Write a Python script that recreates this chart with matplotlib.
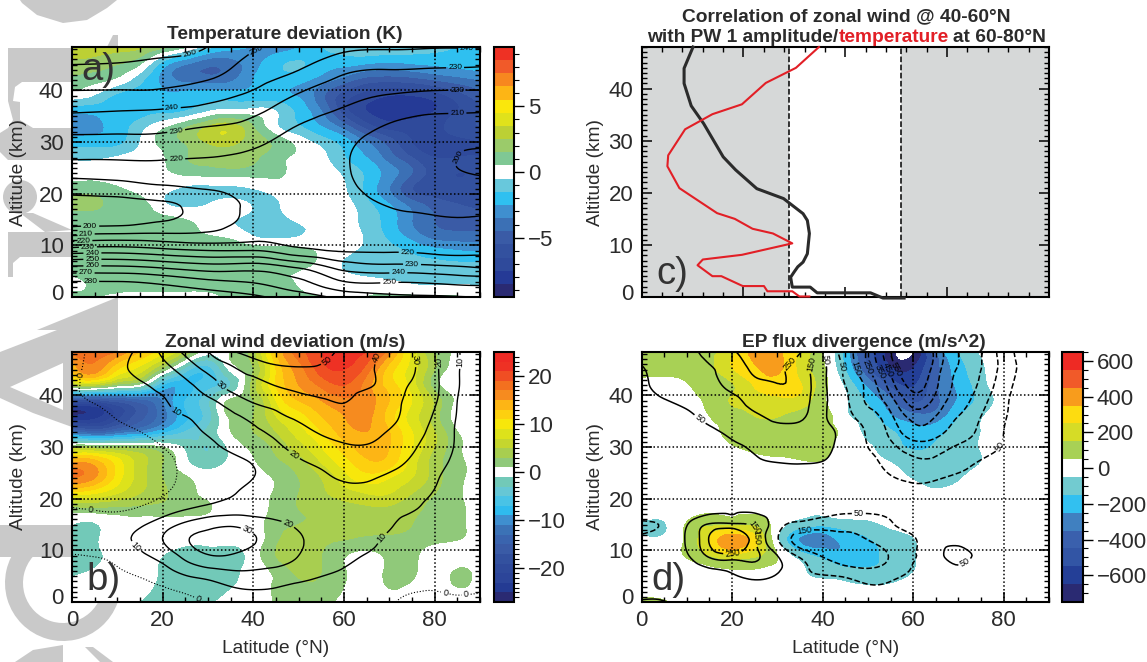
import numpy as np
import matplotlib
matplotlib.use('Agg')
import matplotlib.pyplot as plt
import matplotlib.tri as mtri
from matplotlib.patches import Polygon, Circle, Wedge
from matplotlib.transforms import ScaledTranslation

plt.rcParams['font.family'] = ['Liberation Sans', 'DejaVu Sans']

W, H = 1147, 662

lat = np.arange(0, 91, 5)
lat_t = np.arange(0, 91, 10)
alt = np.array([0, 3, 6, 9, 12, 15, 18, 21, 24, 27, 30, 33, 36, 39, 42, 45, 48.5])

# shading of panel a, rows from the top of the atmosphere down
temp_dev = [
    [3.0, 3.0, 3.0, 2.8, 2.0, 0.8, -1.0, -2.0, -2.6, -3.2, -2.6, -1.6, -0.9, -0.5, -0.6, -0.9, -1.2, -1.6, -2.0],
    [2.2, 2.0, 1.5, 0.5, -2.0, -3.5, -4.3, -4.0, -2.9, -1.8, -1.4, -2.0, -2.3, -2.6, -2.8, -2.6, -2.4, -2.2, -2.0],
    [1.2, 0.8, 0.2, -1.2, -2.8, -3.8, -4.0, -3.7, -2.5, -2.0, -2.2, -3.0, -4.0, -5.0, -5.2, -5.0, -4.5, -4.0, -3.5],
    [0.0, -0.6, -1.7, -2.0, -2.4, -2.2, -2.0, -2.0, -2.1, -2.2, -2.6, -4.2, -6.0, -7.0, -7.5, -7.5, -7.0, -6.0, -5.0],
    [-2.2, -2.2, -2.0, -2.0, -1.8, -1.5, -0.6, -0.2, -0.1, -0.5, -1.8, -3.5, -6.0, -7.5, -8.0, -8.0, -7.5, -6.5, -5.5],
    [-3.0, -2.8, -2.0, -1.0, 0.2, 1.3, 2.5, 3.0, 1.5, -0.3, -1.4, -2.5, -4.0, -6.0, -7.0, -7.0, -6.8, -6.0, -5.5],
    [-2.0, -2.0, -1.8, -0.5, 0.8, 1.6, 2.6, 2.8, 2.0, 1.2, 0.1, -0.9, -2.0, -3.5, -5.0, -6.5, -7.0, -6.8, -6.5],
    [-0.7, -0.7, -0.4, 0.0, 0.4, 1.4, 1.8, 2.0, 1.7, 0.9, 0.3, -0.2, -1.4, -2.5, -4.0, -5.5, -6.5, -6.5, -6.5],
    [0.0, 0.1, 0.1, 0.2, 0.3, 0.7, 0.9, 1.0, 0.9, 0.7, 0.2, 0.0, -0.7, -1.7, -3.0, -4.5, -6.0, -6.5, -6.5],
    [1.0, 1.0, 0.6, 0.2, -0.2, -0.7, -0.8, -0.7, -0.5, -0.1, 0.0, 0.0, -0.4, -1.8, -3.5, -5.5, -6.0, -6.2, -6.2],
    [1.8, 1.7, 1.2, 0.9, -0.3, -0.8, -0.5, -0.2, -0.6, -0.6, -0.1, 0.0, -0.2, -1.2, -2.5, -4.0, -5.0, -5.5, -5.8],
    [1.0, 1.0, 1.0, 1.0, 0.8, 0.5, 0.1, -0.4, -0.8, -0.9, -0.3, 0.0, -0.1, -0.9, -2.0, -3.5, -4.5, -5.0, -5.0],
    [1.0, 1.0, 1.0, 1.0, 1.0, 0.8, 0.5, 0.2, -0.6, -0.9, -0.6, -0.1, 0.0, -0.7, -1.8, -3.0, -4.0, -4.2, -4.2],
    [1.0, 1.0, 1.0, 1.0, 1.0, 1.0, 1.0, 1.0, 1.0, 0.9, 0.8, 0.3, -0.2, -0.8, -1.2, -1.7, -2.2, -2.5, -2.6],
    [1.0, 1.0, 1.0, 1.0, 1.0, 1.0, 1.0, 1.0, 1.0, 0.8, 0.7, 0.2, -0.6, -1.0, -1.0, -1.2, -1.3, -1.3, -1.3],
    [0.3, 0.7, 1.0, 1.0, 1.0, 1.0, 0.9, 0.8, 0.7, 0.7, 0.4, 0.1, 0.0, -0.2, -0.4, -0.7, -0.8, -0.7, -0.7],
    [0.8, 0.6, 0.2, 0.0, 0.0, 0.0, 0.2, 0.7, 1.0, 1.0, 0.7, 0.5, 0.2, 0.5, 0.7, 0.7, 0.7, 0.6, 0.2],
]

# temperature isolines of panel a, one column per 10 deg, bottom to top
temp_clim = [
    [293, 280, 260, 235, 210, 195, 195, 204, 213, 221, 227, 233.5, 241, 248, 254, 260, 264],
    [293, 280, 260, 236, 212, 195, 196, 205, 214, 221, 227, 233, 240, 247.5, 254, 259.5, 264],
    [290, 277, 257, 233, 212, 199, 198.5, 208, 215, 221, 226.5, 232.5, 239, 247, 253, 258, 263],
    [287, 272, 253, 230, 212, 206, 205, 210.5, 216, 220, 225, 230, 237, 243, 250, 255, 260],
    [282, 269, 254, 230, 216, 212, 212, 213, 215, 218, 222, 227, 232, 238, 243, 247, 251],
    [275, 262, 247, 223, 216, 215, 214, 214, 214, 215, 216, 219.5, 224, 229, 236, 242, 249],
    [267, 250, 235, 219, 215, 213, 212, 211.5, 211, 211, 212, 215, 219, 223, 228, 234, 243],
    [262, 249, 232, 219, 215, 212, 209.5, 206.5, 204, 203, 205, 209, 214, 219.5, 226, 232, 242],
    [261, 248, 231, 218, 215, 211, 208, 204, 201.5, 201, 202, 206, 211, 217.5, 225, 231.5, 241],
    [260, 246, 228, 218, 214, 211, 207, 203, 199.5, 198, 202, 206.5, 210.5, 217.5, 224.5, 231, 241],
]

wind_dev = [
    [18, 18, 17, 13, 10, 5, 0, 1, 4, 13, 18, 21, 22, 21, 16, 8, 3, 0.5, 0],
    [13, 16, 11, 8, 2, -4, -6, -0.5, 3, 11, 16, 20, 21, 18, 12, 8, 3, 0, 0],
    [4, 5, 2, 0, -7, -8, -6, -3, 4, 11, 15, 17.5, 19, 16, 12, 8, 2, 0, 0],
    [-18, -18, -16, -14, -11, -7, -3.5, 1.5, 3, 9, 13, 15, 16.5, 16, 13, 9, 4.5, 0.5, 0],
    [-25, -24, -20, -16, -12, -7.5, -4, 1.5, 3, 7, 10, 13, 15, 15.5, 12, 8, 4, 0, 0],
    [-13, -15, -13, -11, -8, -5, -2.5, 1, 3, 5, 8, 11, 14, 15, 13, 9, 5, 1, 0],
    [3, 3, 2.5, 2, 1, -1.5, -3, -0.5, 1.5, 3.5, 6, 9, 12, 14, 13, 9, 5, 1.5, 0],
    [15, 14, 10, 6, 3, -0.5, -2, -0.5, 0.8, 2.5, 4, 7, 10, 12.5, 12, 8, 4, 1.5, 0.3],
    [17, 15, 10, 6, 3, 1.3, 0, 0, 0, 1.3, 3, 5, 8, 10, 9, 7, 4, 1.5, 0.2],
    [10, 9, 7, 5, 3.3, 1.8, 0.5, 0, 0, 1.3, 3, 4.5, 6, 7, 7, 5, 3, 1.3, 0],
    [2, 2.3, 2.3, 2.3, 2.2, 1.8, 1.2, 0, 0, 1.6, 3, 3.5, 4, 4.5, 4.5, 3.5, 2.5, 1.5, 0],
    [-1, -1.2, 0, 0, 0, 0, 0, 0, 0.2, 2, 3, 3.5, 3.5, 3.5, 3.5, 3, 2.5, 1.5, 0],
    [-1.5, -1.3, 0, 0, 0, -0.5, -0.5, -0.5, 0, 2.5, 4.5, 3.5, 3, 2.5, 2.5, 2.2, 1.5, 1, 0],
    [-1.5, -1.5, 0, 0, -1, -2, -2, -2, 0, 3, 4.5, 3, 1.2, 0.3, 1.5, 1.5, 0, 0, 0],
    [-1.5, -0.8, 0, 0, -1.3, -2, -2, -1.8, 0, 1.5, 3.5, 3, 1.2, 0, 1.5, 1.5, 0, 1.2, 0],
    [0, 0, 0, -0.3, -1.5, -2, -2, -1.2, 0, 1.3, 2.5, 2.5, 1, 0, 1.1, 0.5, 0, 1.05, 0],
    [0, 0, 0, -1.1, -1.5, -1.8, -1.5, 0, 0, 1.2, 1.8, 1.8, 0.3, 0, 0, 0, 0, 0, 0],
]

wind_clim = [
    [-5, 3, 7, 12, 22, 32, 40, 49, 53, 55, 55, 53, 48, 43, 38, 31, 22, 11, 3],
    [-3, 3, 7, 13, 17, 24, 32, 38, 44, 48, 49, 49, 46, 42, 36, 31, 22, 11, 3],
    [-1, 2, 5, 8.5, 13, 18, 25, 33, 36, 40.5, 43, 45, 43, 41, 36, 29, 22, 11, 3],
    [-3, 0.8, 3, 6, 9, 15, 18.5, 25, 31, 33.5, 37, 39, 40.5, 37, 34, 27, 21, 10, 3],
    [-8, -4, 1, 4, 7, 10, 13.5, 18, 23, 28, 32, 35, 37, 36, 33, 26, 19, 9.5, 3],
    [-12, -8, -4, 0, 3.5, 7, 11, 15, 18.5, 22, 27, 31, 33, 32.5, 29.5, 24, 17, 9, 3],
    [-14, -11, -8, -4, 0, 3, 7, 12, 15, 18.5, 23, 26.5, 29, 29.5, 27, 21.5, 15, 9, 3],
    [-13, -11, -8, -5, -1.5, 1, 4, 7, 10.5, 14, 18.5, 22, 25, 25.5, 23, 18.5, 13, 8, 3],
    [-12, -10, -7, -4, -1.5, 1, 4, 7.5, 10, 12, 14.5, 18, 21, 21, 18.5, 15.5, 11, 6.5, 3],
    [-9, -7.5, -5, -3, -0.5, 2.5, 6, 9.5, 11, 12.5, 14, 15.5, 16.5, 17, 15, 12.5, 9.5, 5.5, 2.5],
    [1, -0.5, -1, 1, 5, 9.5, 13, 15, 15, 14, 13.5, 13, 13, 13, 12, 10.5, 7.5, 4, 2],
    [3, 4, 5, 8.5, 15, 22, 26.5, 28.5, 26, 23, 18, 15, 13.5, 12, 10.5, 8, 6, 3.5, 2],
    [3, 5, 7.5, 12, 20, 29, 33, 34, 30.5, 27, 21, 18, 15.5, 12, 9, 7, 5, 3, 2],
    [-0.5, 0.5, 3, 8, 14, 23, 29.5, 29.5, 27, 25, 20, 16.5, 13, 9.5, 7, 5, 3.5, 2.5, 2],
    [-6, -4, -1, 2, 6.5, 13, 17, 19.5, 19.5, 18, 16, 12.5, 9, 6, 4, 2.5, 1.5, 1, 1],
    [-8, -7, -5, -2.5, 0, 3, 6, 10, 11.5, 10.5, 8, 5.5, 4, 3, 1.5, 0.5, 0.2, 0.4, 0.2],
    [-11, -10, -8, -6, -4, -2, 0.5, 3, 5, 5, 4, 3, 2, 1, 0.3, -0.5, -0.3, -0.5, -0.3],
]

epfd_fill = [
    [100, 100, 100, 130, 210, 400, 380, 230, 60, -190, -500, -700, -770, -350, -140, -40, 0, 0, 0],
    [110, 90, 90, 120, 240, 330, 370, 220, 70, -150, -430, -630, -640, -400, -200, -70, 0, 0, 0],
    [0, 0, 40, 100, 140, 260, 300, 260, 90, -70, -280, -480, -560, -380, -230, -90, 0, 0, 0],
    [0, 0, 10, 80, 160, 200, 230, 210, 70, -40, -170, -330, -460, -380, -240, -110, -20, 0, 0],
    [0, 0, 0, 50, 100, 150, 155, 120, 100, -30, -110, -240, -320, -310, -160, -60, 0, 0, 0],
    [0, 0, 0, 20, 80, 100, 110, 110, 90, 20, -80, -140, -210, -190, -110, -50, 0, 0, 0],
    [0, 0, 0, 0, 40, 70, 80, 90, 90, -5, -40, -110, -160, -140, -90, -45, 0, 0, 0],
    [0, 0, 0, 0, 0, 20, 30, 40, 40, 0, -20, -50, -100, -110, -90, -50, 0, 0, 0],
    [0, 0, 0, 0, 0, 0, 0, 0, 0, 0, 0, -20, -55, -80, -60, -10, 0, 0, 0],
    [0, 0, 0, 0, 0, 0, 0, 0, 0, 0, 0, 0, -20, -35, -20, 0, 0, 0, 0],
    [0, 0, 0, 30, 30, 30, 0, -30, -30, 0, 0, 0, 0, 0, 0, 0, 0, 0, 0],
    [-60, -60, 60, 130, 140, 130, 0, -100, -130, -100, -80, -30, 0, 0, 0, 0, 0, 0, 0],
    [-30, -30, 70, 260, 430, 280, -30, -260, -300, -220, -160, -110, -60, 0, 0, 0, 0, 0, 0],
    [0, 0, 60, 150, 220, 170, 50, -100, -180, -230, -190, -120, -60, 0, 0, 0, 0, 0, 0],
    [0, 0, 0, 20, 40, 40, 10, -30, -100, -120, -130, -120, -55, 0, 0, 0, 0, 0, 0],
    [0, 0, 0, 0, 0, 0, 0, 0, 0, -30, -45, -35, 0, 0, 0, 0, 0, 0, 0],
    [70, 60, 0, 0, 0, 0, 0, 0, 0, 0, 0, 0, 0, 0, 0, 0, 0, 0, 0],
]

epfd_lines = [
    [80, 80, 110, 190, 240, 300, 320, 260, 70, -100, -270, -550, -680, -520, -350, -260, -100, -20, 0],
    [45, 65, 85, 140, 190, 270, 270, 200, 75, -70, -240, -480, -640, -500, -340, -250, -110, -25, 0],
    [30, 75, 90, 120, 175, 220, 245, 210, 75, -50, -180, -400, -580, -470, -320, -230, -90, -20, 0],
    [10, 45, 70, 90, 125, 175, 190, 190, 75, -30, -170, -310, -500, -420, -300, -190, -70, -15, 0],
    [0, 10, 35, 70, 100, 140, 170, 170, 70, -20, -100, -230, -390, -350, -250, -150, -60, -10, 0],
    [0, 0, 10, 35, 70, 100, 110, 110, 90, 10, -60, -180, -310, -290, -200, -130, -50, -10, 0],
    [0, 0, 0, 10, 35, 60, 75, 80, 85, 0, -50, -120, -200, -190, -140, -100, -40, -5, 0],
    [0, 0, 0, 0, 10, 35, 50, 55, 45, 0, -30, -80, -130, -130, -90, -40, -10, 0, 0],
    [0, 0, 0, 0, 0, 0, 0, 0, 0, 0, -5, -40, -70, -60, -30, -10, 0, 0, 0],
    [0, 0, 0, 0, 0, 0, 0, 0, 0, 0, 0, 0, -20, -15, 0, 0, 0, 0, 0],
    [0, 0, 0, 10, 30, 25, 5, 0, -20, -30, -30, -20, 0, 0, 0, 0, 0, 0, 0],
    [-60, -40, 45, 160, 170, 135, -10, -80, -100, -110, -100, -60, -10, 0, 0, 0, 0, 0, 0],
    [-30, -10, 60, 260, 420, 170, -40, -200, -210, -190, -150, -100, -60, 0, 0, 0, 0, 0, 0],
    [0, 0, 40, 170, 220, 170, 50, -70, -160, -220, -210, -140, -55, 0, 100, 0, 0, 0, 0],
    [0, 0, 0, 30, 60, 100, 60, -20, -70, -100, -130, -100, -40, 0, 0, 0, 0, 0, 0],
    [0, 0, 0, 0, 10, 20, 0, 0, 0, -10, -40, -30, 0, 0, 0, 0, 0, 0, 0],
    [60, 55, 0, 0, 0, 0, 0, 0, 0, 0, 0, 0, 0, 0, 0, 0, 0, 0, 0],
]

# panel c profiles
amp_corr = [-0.747, -0.791, -0.791, -0.756, -0.695, -0.599, -0.538, -0.434, -0.303, -0.207, -0.186, -0.176,
            -0.186, -0.207, -0.233, -0.251, -0.268, -0.26, -0.172, -0.138, 0.124, 0.185, 0.289]
amp_alt = [48, 43.9, 41, 36.7, 33.3, 26.9, 24.4, 20.8, 18.9, 16, 14.7, 12.2, 8.3, 6.7, 5.8, 4.8, 3.8, 1.9, 1.9,
           0.8, 0.8, -0.2, -0.2]
temp_corr = [-0.129, -0.242, -0.39, -0.507, -0.652, -0.786, -0.869, -0.873, -0.814, -0.629, -0.542, -0.455,
             -0.355, -0.26, -0.507, -0.699, -0.725, -0.652, -0.608, -0.503, -0.399, -0.382, -0.26, -0.225, -0.176]
temp_alt = [48, 44, 41.1, 37, 35.1, 32.2, 27.2, 25.1, 20.9, 16.1, 15, 13.1, 12.2, 10.3, 8.1, 7.2, 6.1, 4, 4, 2.1,
            2.1, 1.1, 1.1, 0.1, 0.1]
signif = 0.275

colors_a = ['#2a2a72', '#253a96', '#2f4a9b', '#33519f', '#3a5ba6', '#3b70b5', '#3f8fcf', '#2fc0f0', '#68c8dc',
            '#ffffff', '#7fc894', '#9bcb6a', '#bcd034', '#e0e21b', '#fae70c', '#fdb515', '#f7871f', '#f15a29', '#ee3124']
levels_a = np.arange(-9.5, 10, 1)
colors_b = ['#2a2a72', '#243b93', '#2c4599', '#2f4a9b', '#33519f', '#3a5ba6', '#3a64ae', '#3b72b6', '#3f8fcf',
            '#2fbbee', '#49c3e6', '#66c7d5', '#72c9b8', '#ffffff', '#90c97a', '#a8ce50', '#c5d62e', '#dde21b',
            '#f7e70b', '#fdd00f', '#fdb515', '#f68b1f', '#f3701f', '#f04e23', '#ee3124', '#ee2a24']
levels_b = np.arange(-27, 26, 2)
colors_d = ['#2a2a72', '#243f97', '#3255a5', '#3a60ad', '#4080c0', '#32c0f0', '#72cbd0', '#ffffff', '#a8d155',
            '#d6dc26', '#fddc10', '#f89c1c', '#f15a29', '#ee2a24']
levels_d = np.arange(-750, 651, 100)

TXT = '#2b2b2b'
TICK_FS = 16
LABEL_FS = 13.8
TITLE_FS = 13.8


def axes_px(fig, x0, y0, x1, y1, **kw):
    return fig.add_axes([x0 / W, 1 - y1 / H, (x1 - x0) / W, (y1 - y0) / H], **kw)


def fig_text(fig, x, y, s, **kw):
    return fig.text(x / W, 1 - y / H, s, ha=kw.pop('ha', 'center'), va='center', color=kw.pop('color', TXT), **kw)


def refined(x, y, z):
    # matplotlib's own cubic refiner rounds off the coarse grid
    xx, yy = np.meshgrid(x, y)
    tri = mtri.Triangulation(xx.ravel(), yy.ravel())
    return mtri.UniformTriRefiner(tri).refine_field(np.asarray(z, float).ravel(), subdiv=3)


def style_axes(fig, ax, ylim, xlabels):
    ax.set_ylim(*ylim)
    ax.set_yticks([0, 10, 20, 30, 40])
    ax.set_yticks(np.arange(0, 49, 1), minor=True)
    ax.tick_params(axis='both', which='major', direction='in', length=7, width=1.1, top=True, right=True,
                   labelsize=TICK_FS, labelcolor=TXT, pad=6)
    ax.tick_params(axis='both', which='minor', direction='in', length=3.5, width=1, top=True, right=True)
    for s in ax.spines.values():
        s.set_linewidth(1.5)
    # the 0 label sits a little above its tick in the original
    zero = ax.get_yticklabels()[0]
    zero.set_transform(zero.get_transform() + ScaledTranslation(0, 0.055, fig.dpi_scale_trans))
    if not xlabels:
        ax.tick_params(axis='x', labelbottom=False)
    ax.set_ylabel('Altitude (km)', fontsize=LABEL_FS, color=TXT)
    ax.yaxis.set_label_coords(-0.11, 0.5)


def field_panel(fig, box, cbox, field, levels, colors, ticks, minor, xlabels):
    ax = axes_px(fig, *box, zorder=2)
    tri, z = refined(lat, alt, np.array(field)[::-1])
    cf = ax.tricontourf(tri, z, levels=levels, colors=colors)
    ax.set_xticks([0, 20, 40, 60, 80])
    ax.set_xticks(np.arange(0, 91, 5), minor=True)
    ax.set_xlim(0, 90)
    style_axes(fig, ax, (0, 48.4), xlabels)
    ax.set_axisbelow(False)
    ax.grid(True, which='major', color='k', lw=1.1, linestyle=(0, (1, 1.5)))
    cax = axes_px(fig, *cbox, zorder=2)
    cb = fig.colorbar(cf, cax=cax, ticks=ticks)
    cb.ax.set_yticks(minor, minor=True)
    cb.ax.tick_params(which='major', length=7, width=1, labelsize=TICK_FS, labelcolor=TXT, pad=3)
    cb.ax.tick_params(which='minor', length=3.5, width=0.8)
    cb.outline.set_linewidth(1.5)
    return ax


fig = plt.figure(figsize=(W / 100, H / 100), dpi=100)

# journal watermark behind the panels
bg = fig.add_axes([0, 0, 1, 1], zorder=-5)
bg.set_xlim(0, W)
bg.set_ylim(H, 0)
bg.axis('off')
GREY = '#c9c9c9'
shapes = [
    [(20, 0), (22, 3), (37, 15), (63, 23), (87, 20), (107, 8), (117, 0)],
    [(8, 48), (72, 48), (72, 82), (22, 82), (15, 87), (13, 101), (20, 102), (20, 120), (33, 128), (72, 128),
     (72, 160), (8, 160), (0, 152), (0, 133), (8, 128), (13, 120), (8, 101)],
    [(20, 213), (33, 213), (72, 230), (45, 232)],
    [(8, 232), (72, 232), (72, 257), (20, 257), (13, 263), (13, 277), (8, 277)],
    [(107, 47), (113, 35), (118, 35), (118, 47)],
    [(37, 330), (118, 297), (118, 330)],
    [(0, 352), (57, 330), (118, 330), (118, 352), (72, 352), (72, 427), (33, 413), (0, 398)],
    [(0, 525), (72, 525), (72, 557), (0, 557)],
    [(15, 662), (33, 650), (63, 645), (63, 662)],
    [(85, 647), (93, 647), (113, 662), (100, 662)],
]
for pts in shapes:
    bg.add_patch(Polygon(pts, closed=True, color=GREY, lw=0))
bg.add_patch(Polygon([(10, 387), (63, 363), (63, 410)], closed=True, color='white', lw=0))
bg.add_patch(Circle((20, 197), 17, color=GREY, lw=0))
bg.add_patch(Wedge((63, 583), 58, 20, 250, width=18, color=GREY, lw=0))

# a) temperature
ax_a = field_panel(fig, (72, 47, 480, 297), (493.5, 47, 514, 297), temp_dev, levels_a, colors_a,
                   [-5, 0, 5], np.arange(-9, 10, 1), False)
tri, z = refined(lat_t, alt, np.array(temp_clim).T)
cs = ax_a.tricontour(tri, z, levels=np.arange(200, 281, 10), colors='k', linewidths=1)
ax_a.clabel(cs, fmt='%d', fontsize=6, inline=True, inline_spacing=2, manual=[
    (26, 47.3), (41, 47.3), (22, 36.6), (23, 32), (23, 26.5), (87, 47.8), (84.5, 44.5), (85, 40.2), (85, 35.8),
    (84, 27.5), (4, 13.6), (3, 12.3), (2.5, 11), (3.5, 9.8), (4.5, 8.5), (4.5, 7.3), (4.5, 6), (3, 4.5), (4, 3),
    (74, 7.5), (75, 6), (72, 4.2), (70, 2.8)])
ax_a.text(0.022, 0.91, 'a)', transform=ax_a.transAxes, fontsize=27.5, color='#333333', va='center', zorder=6)

# b) zonal wind
ax_b = field_panel(fig, (72, 352, 480, 602), (493.5, 352, 514, 602), wind_dev, levels_b, colors_b,
                   [-20, -10, 0, 10, 20], np.arange(-26, 25, 1), True)
tri, z = refined(lat, alt, np.array(wind_clim)[::-1])
cs = ax_b.tricontour(tri, z, levels=[0, 10, 20, 30, 40, 50], colors='k',
                     linewidths=[0.8, 1, 1, 1, 1, 1], linestyles=[':', '-', '-', '-', '-', '-'])
ax_b.clabel(cs, fmt='%d', fontsize=6.5, inline=True, inline_spacing=2, manual=[
    (23, 37), (14, 10.6), (49, 28.5), (47.5, 14.8), (33, 42), (38.5, 13.5), (68, 47), (75.5, 46.8), (81, 46.5),
    (85.5, 46.5), (56, 47), (67, 13.5), (2, 44), (4, 17.5), (28, 0.8), (82, 0.5), (87, 1)])
ax_b.text(0.036, 0.09, 'b)', transform=ax_b.transAxes, fontsize=27.5, color='#333333', va='center', zorder=6)
ax_b.set_xlabel('Latitude (°N)', fontsize=LABEL_FS, color=TXT, labelpad=6)

# c) correlation profiles
ax_c = axes_px(fig, 641.5, 47, 1049, 297, zorder=2)
ax_c.axvspan(-1, -signif, color='#d6d8d8', lw=0)
ax_c.axvspan(signif, 1, color='#d6d8d8', lw=0)
ax_c.axvline(-signif, color='k', lw=1.1, ls='--')
ax_c.axvline(signif, color='k', lw=1.1, ls='--')
ax_c.plot(amp_corr, amp_alt, color='#2b2b2b', lw=2.2, clip_on=False, zorder=4)
ax_c.plot(temp_corr, temp_alt, color='#e21f26', lw=1.5, clip_on=False, zorder=5)
ax_c.set_xlim(-1, 1)
ax_c.set_xticks([-1, -0.5, 0, 0.5, 1])
ax_c.set_xticks(np.arange(-1, 1.01, 0.1), minor=True)
style_axes(fig, ax_c, (0, 48), False)
ax_c.yaxis.set_label_coords(-0.092, 0.5)
ax_c.text(0.036, 0.09, 'c)', transform=ax_c.transAxes, fontsize=27.5, color='#333333', va='center', zorder=6)

# d) EP flux divergence
ax_d = field_panel(fig, (641.5, 352, 1049, 602), (1061.5, 352, 1083, 602), epfd_fill, levels_d, colors_d,
                   [-600, -400, -200, 0, 200, 400, 600], np.arange(-700, 651, 50), True)
lev_d = [-550, -450, -350, -250, -150, -50, 50, 150, 250]
tri, z = refined(lat, alt, np.array(epfd_lines)[::-1])
cs = ax_d.tricontour(tri, z, levels=lev_d, colors='k', linewidths=1.1, linestyles=['--'] * 6 + ['-'] * 3)
ax_d.clabel(cs, fmt=lambda v: '%d' % abs(v), fontsize=6.5, inline=True, inline_spacing=2, manual=[
    (13, 35.5), (37.5, 46), (33, 46), (41, 47), (44, 45.5), (46.5, 45), (49, 45), (52.5, 44.5), (54.5, 45),
    (56.5, 45), (78.5, 30.5), (26, 15), (25, 12.5), (20, 10), (48, 17.5), (36, 14), (71.5, 7.5)])
ax_d.text(0.025, 0.09, 'd)', transform=ax_d.transAxes, fontsize=27.5, color='#333333', va='center', zorder=6)
ax_d.set_xlabel('Latitude (°N)', fontsize=LABEL_FS, color=TXT, labelpad=6)
ax_d.yaxis.set_label_coords(-0.092, 0.5)

# titles
fig_text(fig, 285, 34.5, 'Temperature deviation (K)', fontsize=TITLE_FS, fontweight='bold')
fig_text(fig, 285.5, 342.5, 'Zonal wind deviation (m/s)', fontsize=TITLE_FS, fontweight='bold')
fig_text(fig, 864, 342.5, 'EP flux divergence (m/s^2)', fontsize=TITLE_FS, fontweight='bold')
fig_text(fig, 846, 17, 'Correlation of zonal wind @ 40-60°N', fontsize=TITLE_FS, fontweight='bold')

parts = [('with PW 1 amplitude/', TXT), ('temperature', '#e21f26'), ('at 60-80°N', TXT)]
rend = fig.canvas.get_renderer()
pieces = [fig_text(fig, 0, 38, s, fontsize=TITLE_FS, fontweight='bold', color=c, ha='left') for s, c in parts]
widths = [p.get_window_extent(rend).width for p in pieces]
gap = 4
x = 846 - (sum(widths) + gap) / 2
for i, p in enumerate(pieces):
    p.set_x(x / W)
    x += widths[i] + (gap if i == 1 else 0.5)

fig.savefig('out.png', dpi=100)
plt.close(fig)
